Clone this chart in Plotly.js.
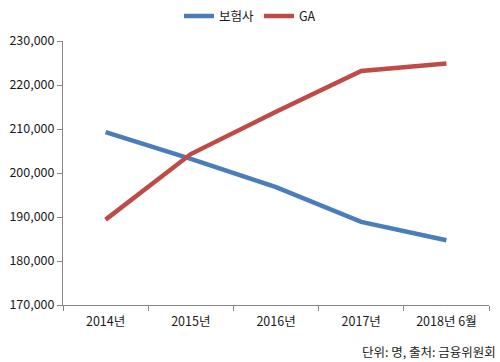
<!DOCTYPE html>
<html><head><meta charset="utf-8">
<script src="https://cdn.plot.ly/plotly-3.0.1.min.js"></script>
<style>body{margin:0;padding:0;background:#fff}#chart{width:500px;height:362px}</style>
</head><body><div id="chart"></div>
<script>
const categories = ["2014년", "2015년", "2016년", "2017년", "2018년 6월"];
const insurers = [209300, 203200, 196800, 188900, 184700];
const ga = [189400, 204300, 213900, 223200, 224900];
const yTicks = [170000, 180000, 190000, 200000, 210000, 220000, 230000];
const yTickLabels = ["170,000", "180,000", "190,000", "200,000", "210,000", "220,000", "230,000"];

const font = {family: "'Noto Sans CJK KR', 'Noto Sans', sans-serif", size: 12.5, color: "#1a1a1a"};
const traces = [
  {x: categories, y: insurers, name: "보험사", type: "scatter", mode: "lines",
   line: {color: "#4A7EBB", width: 4.5, shape: "linear"}},
  {x: categories, y: ga, name: "GA", type: "scatter", mode: "lines",
   line: {color: "#BE4B48", width: 4.5, shape: "linear"}}
];
const layout = {
  width: 500, height: 362,
  margin: {l: 63, r: 11, t: 41, b: 57},
  paper_bgcolor: "#fff", plot_bgcolor: "#fff",
  font: font,
  showlegend: true,
  legend: {orientation: "h", x: 0.5, xanchor: "center", xref: "container",
           y: 0.955, yanchor: "middle", yref: "container",
           font: font, itemwidth: 30, tracegroupgap: 0},
  xaxis: {type: "category", range: [-0.5, 4.5], showgrid: false, zeroline: false,
          showline: true, linecolor: "#868686", linewidth: 1,
          ticks: "outside", tickson: "boundaries", ticklen: 5, tickcolor: "#868686",
          ticklabelstandoff: 5, tickfont: font, fixedrange: true},
  yaxis: {range: [170000, 230000], tickvals: yTicks, ticktext: yTickLabels,
          showgrid: false, zeroline: false, showline: true, linecolor: "#868686", linewidth: 1,
          ticks: "outside", ticklen: 5, tickcolor: "#868686", tickfont: font, fixedrange: true},
  annotations: [{text: "단위: 명, 출처: 금융위원회", xref: "paper", yref: "paper", x: 1.02, y: -0.175,
                 xanchor: "right", yanchor: "middle", showarrow: false, font: font}]
};
Plotly.newPlot("chart", traces, layout, {displayModeBar: false, staticPlot: true});
</script></body></html>
